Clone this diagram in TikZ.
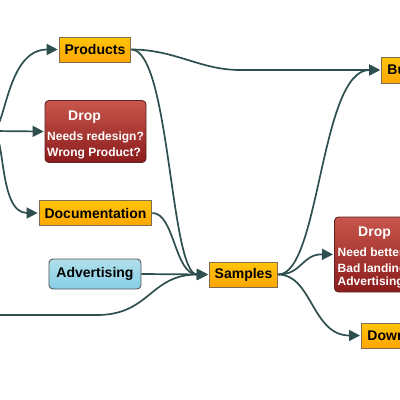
\documentclass[tikz,border=0pt]{standalone}
\usepackage{fontspec}
\setmainfont{Liberation Sans}
\usetikzlibrary{arrows.meta}
\definecolor{edgecol}{RGB}{47,79,79}
\definecolor{orangetop}{RGB}{255,196,10}
\definecolor{orangebot}{RGB}{255,166,0}
\definecolor{orangeborder}{RGB}{125,108,78}
\definecolor{redtop}{RGB}{200,86,76}
\definecolor{redbot}{RGB}{138,28,28}
\definecolor{redborder}{RGB}{95,35,35}
\definecolor{bluetop}{RGB}{176,224,234}
\definecolor{bluebot}{RGB}{135,206,232}
\definecolor{blueborder}{RGB}{85,85,85}
\tikzset{
  obox/.style={draw=orangeborder, line width=0.9pt, top color=orangetop, bottom color=orangebot,
    minimum height=25pt, inner xsep=5.5pt, inner ysep=0pt, font=\fontsize{14}{16}\selectfont\bfseries, text=black},
  bbox/.style={draw=blueborder, line width=0.9pt, top color=bluetop, bottom color=bluebot, rounded corners=4pt,
    minimum height=30pt, inner xsep=7.5pt, inner ysep=0pt, font=\fontsize{14}{16}\selectfont\bfseries, text=black},
  rbox/.style={draw=redborder, line width=0.9pt, top color=redtop, bottom color=redbot, rounded corners=4pt,
    inner sep=0pt},
  rtitle/.style={anchor=base west, inner sep=0pt, text=white, font=\fontsize{14}{16}\selectfont\bfseries},
  rline/.style={anchor=base west, inner sep=0pt, text=white, font=\fontsize{12}{14}\selectfont\bfseries},
  edge/.style={draw=edgecol, line width=1.7pt, -{Triangle[length=11pt,width=11pt]}, shorten >=1pt},
  plain/.style={draw=edgecol, line width=1.7pt},
}
\begin{document}
\begin{tikzpicture}[x=1pt,y=-1pt]
\useasboundingbox[fill=white] (0,0) rectangle (400,400);
\clip (0,0) rectangle (400,400);
% off-picture sources
\coordinate (src1) at (-8,131);
\coordinate (src2) at (-30,315);
\coordinate (b1) at (97,315);
\coordinate (pb) at (240,70);
% nodes
\node[obox] (prod) at (95,49.5) {Products};
\node[rbox, minimum width=101pt, minimum height=62pt] (d1) at (95.5,131.5) {};
\node[rtitle] (d1t) at (68,120) {Drop};
\node[rline] (d1a) at (47,140.5) {Needs redesign?};
\node[rline] (d1b) at (47,156.5) {Wrong Product?};
\node[obox] (doc) at (95.5,213) {Documentation};
\node[bbox] (adv) at (95,274) {Advertising};
\node[obox] (sam) at (243.5,274.5) {Samples};
\node[obox, anchor=west, text width=34pt, align=left, inner xsep=6pt, minimum height=26pt] (bu) at (381,70) {Bu};
\node[rbox, anchor=west, minimum width=90pt, minimum height=75pt] (d2) at (334,254.5) {};
\node[rtitle] (d2t) at (358,236) {Drop};
\node[rline] (d2a) at (337.5,256.7) {Need better};
\node[rline] (d2b) at (337.5,272.7) {Bad landing};
\node[rline] (d2c) at (337.5,285.7) {Advertising};
\node[obox, anchor=west, text width=45pt, align=left, inner xsep=6pt] (down) at (361,335.5) {Down};
% connectors
\draw[edge] (src1) .. controls (6,131) and (6,49.5) .. (prod.west);
\draw[edge] (src1) -- (d1.west);
\draw[edge] (src1) .. controls (6,131) and (-2,213) .. (doc.west);
\draw[plain] (prod.east) .. controls (175,49.5) and (200,70) .. (pb);
\draw[edge] (pb) -- (bu.west);
\draw[edge] (prod.east) .. controls (170,49.5) and (170,274.5) .. (sam.west);
\draw[edge] (doc.east) .. controls (174.5,213) and (174.5,274.5) .. (sam.west);
\draw[edge] (adv.east) -- (sam.west);
\draw[plain] (src2) -- (b1);
\draw[edge] (b1) .. controls (150,315) and (150,274.5) .. (sam.west);
\draw[edge] (sam.east) .. controls (320,274.5) and (320,70) .. (bu.west);
\draw[edge] (sam.east) .. controls (302,274.5) and (302,254) .. (d2.west);
\draw[edge] (sam.east) .. controls (312,274.5) and (312,335.5) .. (down.west);
\end{tikzpicture}
\end{document}
